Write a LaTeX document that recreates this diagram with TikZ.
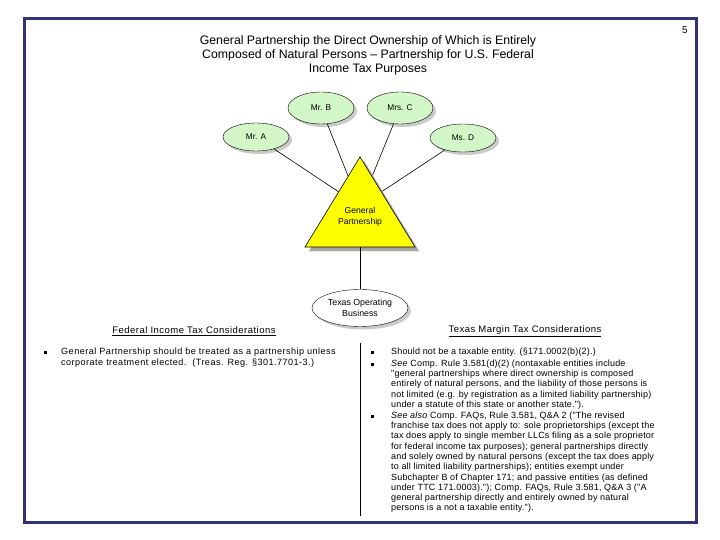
\documentclass[tikz,border=0pt]{standalone}
\usepackage{fontspec}
\setmainfont{Liberation Sans}
\newfontfamily\spacedfont[LetterSpace=5]{Liberation Sans}
\newfontfamily\bodyfont[LetterSpace=2]{Liberation Sans}
\usetikzlibrary{shapes.geometric,shadows}
\definecolor{frameblue}{RGB}{50,50,120}
\definecolor{ownergreen}{RGB}{210,246,200}
\definecolor{gpyellow}{RGB}{255,255,0}
\begin{document}
\begin{tikzpicture}[x=1pt,y=-1pt,
  ownernode/.style={ellipse,draw,fill=ownergreen,minimum width=66pt,minimum height=30pt,inner sep=0pt,
    font=\fontsize{8.3}{9}\selectfont,
    drop shadow={shadow xshift=3pt,shadow yshift=-3pt,fill=black!40}},
  conn/.style={draw,line width=0.6pt},
  heading/.style={font=\spacedfont\fontsize{9.5}{10}\selectfont},
  bodytext/.style={font=\bodyfont\fontsize{9}{10.3}\selectfont,align=left,inner sep=0pt,anchor=north west},
  bul/.style={fill=black,inner sep=0pt,minimum size=3pt,rectangle}
]
\useasboundingbox (0,0) rectangle (720,540);
\fill[white] (0,0) rectangle (720,540);
\draw[frameblue,line width=3pt] (24,19) rectangle (696,522);

\node (pnum) at (685,30) {\fontsize{10}{12}\selectfont 5};

\node[font=\fontsize{12.3}{14}\selectfont,align=center] (title) at (368,55)
  {General Partnership the Direct Ownership of Which is Entirely\\
   Composed of Natural Persons – Partnership for U.S. Federal\\
   Income Tax Purposes};

% owners
\node[ownernode,minimum height=28pt] (mra) at (256,137) {Mr. A};
\node[ownernode,minimum height=32pt] (mrb) at (321,108) {Mr. B};
\node[ownernode,minimum height=32pt] (mrsc) at (400,108) {Mrs. C};
\node[ownernode,minimum height=28pt] (msd) at (463,138) {Ms. D};

\coordinate (hub) at (360,206);
\draw[conn] (mra) -- (hub);
\draw[conn] (mrb) -- (hub);
\draw[conn] (mrsc) -- (hub);
\draw[conn] (msd) -- (hub);

% general partnership triangle
\coordinate (apex) at (360,157);
\coordinate (bl) at (305,247);
\coordinate (br) at (415,247);
\coordinate (gpbase) at (360,247);
\fill[black!35] ([shift={(4,4)}]apex) -- ([shift={(4,4)}]bl) -- ([shift={(4,4)}]br) -- cycle;
\draw[fill=gpyellow,line width=0.6pt] (apex) -- (bl) -- (br) -- cycle;
\node[font=\fontsize{8.6}{10.5}\selectfont,align=center] (gp) at (360,217) {General\\Partnership};

\node[ownernode,fill=white,minimum width=96pt,minimum height=37pt,align=center,
  font=\fontsize{8.8}{10.5}\selectfont] (tob) at (360,308) {Texas Operating\\Business};
\draw[conn] (gpbase) -- (tob);

% headings
\node[heading] (fed) at (194,331) {\underline{Federal Income Tax Considerations}};
\node[heading] (tx) at (525,331) {\underline{Texas Margin Tax Considerations}};

\draw[line width=0.7pt] (360,343) -- (360,516);

% left bullet
\node[bul] (lb1) at (45,352) {};
\node[bodytext,font=\spacedfont\fontsize{9.1}{11.5}\selectfont] (lt1) at (61,347.5) {General Partnership should be treated as a partnership unless\\
corporate treatment elected.\ \ (Treas. Reg. §301.7701-3.)};

% right bullets
\node[bul] (rb1) at (372,352) {};
\node[bodytext] (rt1) at (391,347.5) {Should not be a taxable entity. (§171.0002(b)(2).)};
\node[bul] (rb2) at (372,364) {};
\node[bodytext] (rt2) at (391,359.5) {\textit{See} Comp. Rule 3.581(d)(2) (nontaxable entities include\\
"general partnerships where direct ownership is composed\\
entirely of natural persons, and the liability of those persons is\\
not limited (e.g. by registration as a limited liability partnership)\\
under a statute of this state or another state.").};
\node[bul] (rb3) at (372,416) {};
\node[bodytext] (rt3) at (391,411.5) {\textit{See also} Comp. FAQs, Rule 3.581, Q\&A 2 ("The revised\\
franchise tax does not apply to: sole proprietorships (except the\\
tax does apply to single member LLCs filing as a sole proprietor\\
for federal income tax purposes); general partnerships directly\\
and solely owned by natural persons (except the tax does apply\\
to all limited liability partnerships); entities exempt under\\
Subchapter B of Chapter 171; and passive entities (as defined\\
under TTC 171.0003)."); Comp. FAQs, Rule 3.581, Q\&A 3 ("A\\
general partnership directly and entirely owned by natural\\
persons is a not a taxable entity.").};
\end{tikzpicture}
\end{document}
